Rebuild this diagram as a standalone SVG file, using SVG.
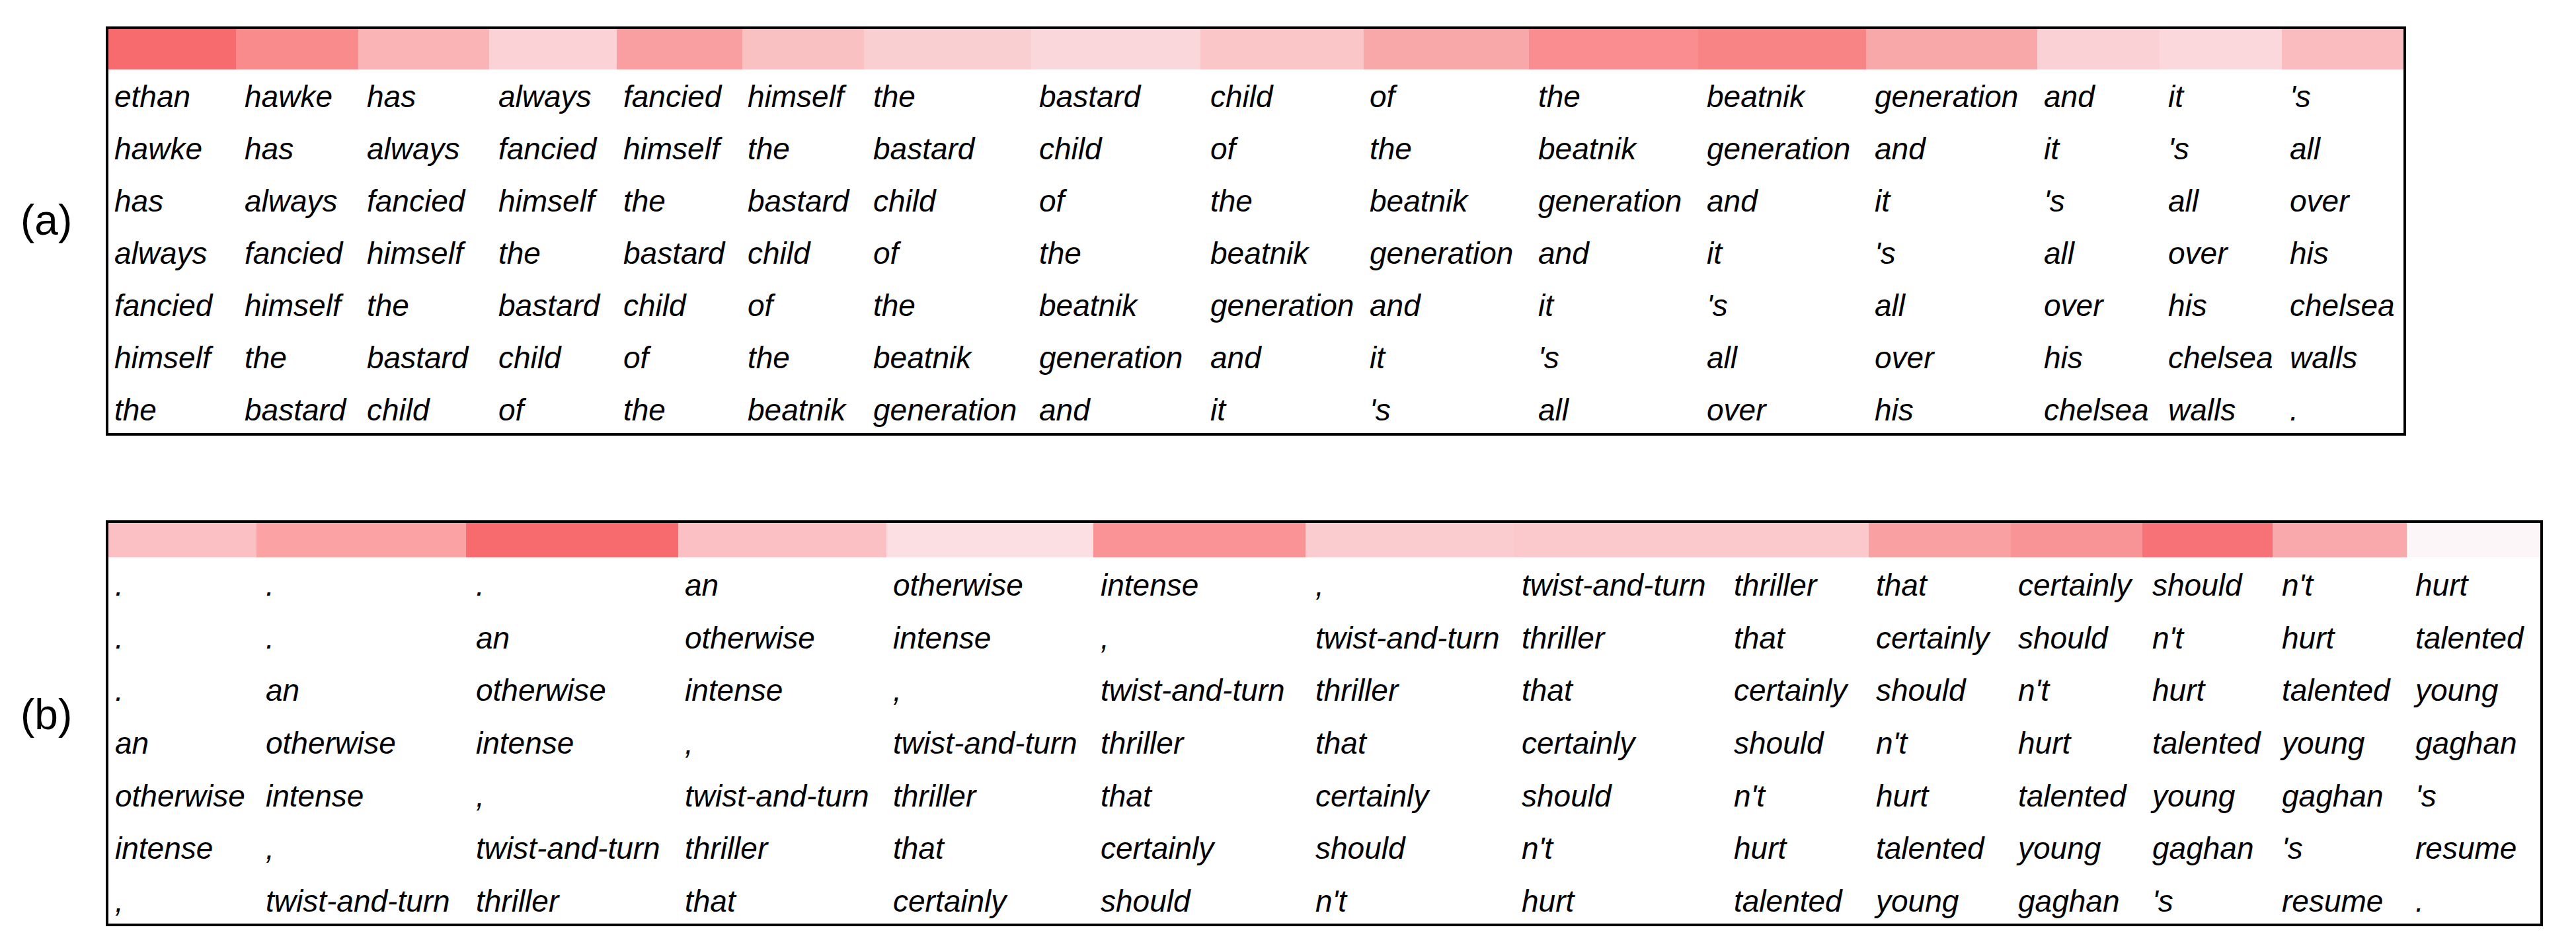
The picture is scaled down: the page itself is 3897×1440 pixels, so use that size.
<svg xmlns="http://www.w3.org/2000/svg" width="3897" height="1440" viewBox="0 0 3897 1440">
<style>
.t{font-family:"Liberation Sans",Arial,sans-serif;font-style:italic;font-size:46px;fill:#000}
.lbl{font-family:"Liberation Sans",Arial,sans-serif;font-size:64px;fill:#000}
.box{fill:none;stroke:#000;stroke-width:4}
</style>
<rect width="3897" height="1440" fill="#fff"/>
<text class="lbl" x="31" y="355">(a)</text>
<text class="lbl" x="31" y="1103">(b)</text>
<g id="panel-a">
<g id="bar-a">
<rect x="164" y="44" width="193" height="61" fill="#F76A6E"/>
<rect x="357" y="44" width="185" height="61" fill="#F98B8D"/>
<rect x="542" y="44" width="198" height="61" fill="#FAB4B6"/>
<rect x="740" y="44" width="193" height="61" fill="#FBD2D5"/>
<rect x="933" y="44" width="190" height="61" fill="#F99FA1"/>
<rect x="1123" y="44" width="184" height="61" fill="#FAC1C3"/>
<rect x="1307" y="44" width="253" height="61" fill="#FACFD2"/>
<rect x="1560" y="44" width="256" height="61" fill="#FAD7DA"/>
<rect x="1816" y="44" width="247" height="61" fill="#FAC6C8"/>
<rect x="2063" y="44" width="250" height="61" fill="#F9A8AA"/>
<rect x="2313" y="44" width="256" height="61" fill="#F98D8F"/>
<rect x="2569" y="44" width="254" height="61" fill="#F88486"/>
<rect x="2823" y="44" width="259" height="61" fill="#F9A8AA"/>
<rect x="3082" y="44" width="185" height="61" fill="#FAD2D5"/>
<rect x="3267" y="44" width="185" height="61" fill="#FAD8DB"/>
<rect x="3452" y="44" width="184" height="61" fill="#FABCBE"/>
</g>
<g id="text-a" class="t">
<text y="162"><tspan x="173">ethan</tspan><tspan x="370">hawke</tspan><tspan x="555">has</tspan><tspan x="754">always</tspan><tspan x="943">fancied</tspan><tspan x="1131">himself</tspan><tspan x="1321">the</tspan><tspan x="1572">bastard</tspan><tspan x="1831">child</tspan><tspan x="2072">of</tspan><tspan x="2327">the</tspan><tspan x="2582">beatnik</tspan><tspan x="2836">generation</tspan><tspan x="3092">and</tspan><tspan x="3280">it</tspan><tspan x="3464">'s</tspan></text>
<text y="241"><tspan x="173">hawke</tspan><tspan x="370">has</tspan><tspan x="555">always</tspan><tspan x="754">fancied</tspan><tspan x="943">himself</tspan><tspan x="1131">the</tspan><tspan x="1321">bastard</tspan><tspan x="1572">child</tspan><tspan x="1831">of</tspan><tspan x="2072">the</tspan><tspan x="2327">beatnik</tspan><tspan x="2582">generation</tspan><tspan x="2836">and</tspan><tspan x="3092">it</tspan><tspan x="3280">'s</tspan><tspan x="3464">all</tspan></text>
<text y="320"><tspan x="173">has</tspan><tspan x="370">always</tspan><tspan x="555">fancied</tspan><tspan x="754">himself</tspan><tspan x="943">the</tspan><tspan x="1131">bastard</tspan><tspan x="1321">child</tspan><tspan x="1572">of</tspan><tspan x="1831">the</tspan><tspan x="2072">beatnik</tspan><tspan x="2327">generation</tspan><tspan x="2582">and</tspan><tspan x="2836">it</tspan><tspan x="3092">'s</tspan><tspan x="3280">all</tspan><tspan x="3464">over</tspan></text>
<text y="399"><tspan x="173">always</tspan><tspan x="370">fancied</tspan><tspan x="555">himself</tspan><tspan x="754">the</tspan><tspan x="943">bastard</tspan><tspan x="1131">child</tspan><tspan x="1321">of</tspan><tspan x="1572">the</tspan><tspan x="1831">beatnik</tspan><tspan x="2072">generation</tspan><tspan x="2327">and</tspan><tspan x="2582">it</tspan><tspan x="2836">'s</tspan><tspan x="3092">all</tspan><tspan x="3280">over</tspan><tspan x="3464">his</tspan></text>
<text y="478"><tspan x="173">fancied</tspan><tspan x="370">himself</tspan><tspan x="555">the</tspan><tspan x="754">bastard</tspan><tspan x="943">child</tspan><tspan x="1131">of</tspan><tspan x="1321">the</tspan><tspan x="1572">beatnik</tspan><tspan x="1831">generation</tspan><tspan x="2072">and</tspan><tspan x="2327">it</tspan><tspan x="2582">'s</tspan><tspan x="2836">all</tspan><tspan x="3092">over</tspan><tspan x="3280">his</tspan><tspan x="3464">chelsea</tspan></text>
<text y="557"><tspan x="173">himself</tspan><tspan x="370">the</tspan><tspan x="555">bastard</tspan><tspan x="754">child</tspan><tspan x="943">of</tspan><tspan x="1131">the</tspan><tspan x="1321">beatnik</tspan><tspan x="1572">generation</tspan><tspan x="1831">and</tspan><tspan x="2072">it</tspan><tspan x="2327">'s</tspan><tspan x="2582">all</tspan><tspan x="2836">over</tspan><tspan x="3092">his</tspan><tspan x="3280">chelsea</tspan><tspan x="3464">walls</tspan></text>
<text y="636"><tspan x="173">the</tspan><tspan x="370">bastard</tspan><tspan x="555">child</tspan><tspan x="754">of</tspan><tspan x="943">the</tspan><tspan x="1131">beatnik</tspan><tspan x="1321">generation</tspan><tspan x="1572">and</tspan><tspan x="1831">it</tspan><tspan x="2072">'s</tspan><tspan x="2327">all</tspan><tspan x="2582">over</tspan><tspan x="2836">his</tspan><tspan x="3092">chelsea</tspan><tspan x="3280">walls</tspan><tspan x="3464">.</tspan></text>
</g>
<rect class="box" x="162" y="42" width="3476" height="615"/>
</g>
<g id="panel-b">
<g id="bar-b">
<rect x="164" y="791" width="224" height="52" fill="#FBC0C3"/>
<rect x="388" y="791" width="317" height="52" fill="#FAA2A4"/>
<rect x="705" y="791" width="321" height="52" fill="#F76B6E"/>
<rect x="1026" y="791" width="315" height="52" fill="#FBC0C3"/>
<rect x="1341" y="791" width="313" height="52" fill="#FCDFE2"/>
<rect x="1654" y="791" width="321" height="52" fill="#F99395"/>
<rect x="1975" y="791" width="316" height="52" fill="#FBCCCF"/>
<rect x="2291" y="791" width="321" height="52" fill="#FBC9CC"/>
<rect x="2612" y="791" width="215" height="52" fill="#FBC9CC"/>
<rect x="2827" y="791" width="215" height="52" fill="#F9A0A2"/>
<rect x="3042" y="791" width="199" height="52" fill="#F99496"/>
<rect x="3241" y="791" width="197" height="52" fill="#F77276"/>
<rect x="3438" y="791" width="203" height="52" fill="#F9A9AB"/>
<rect x="3641" y="791" width="202" height="52" fill="#FCF6F9"/>
</g>
<g id="text-b" class="t">
<text y="901"><tspan x="174">.</tspan><tspan x="402">.</tspan><tspan x="720">.</tspan><tspan x="1036">an</tspan><tspan x="1351">otherwise</tspan><tspan x="1665">intense</tspan><tspan x="1990">,</tspan><tspan x="2302">twist-and-turn</tspan><tspan x="2623">thriller</tspan><tspan x="2838">that</tspan><tspan x="3053">certainly</tspan><tspan x="3256">should</tspan><tspan x="3452">n't</tspan><tspan x="3654">hurt</tspan></text>
<text y="981"><tspan x="174">.</tspan><tspan x="402">.</tspan><tspan x="720">an</tspan><tspan x="1036">otherwise</tspan><tspan x="1351">intense</tspan><tspan x="1665">,</tspan><tspan x="1990">twist-and-turn</tspan><tspan x="2302">thriller</tspan><tspan x="2623">that</tspan><tspan x="2838">certainly</tspan><tspan x="3053">should</tspan><tspan x="3256">n't</tspan><tspan x="3452">hurt</tspan><tspan x="3654">talented</tspan></text>
<text y="1060"><tspan x="174">.</tspan><tspan x="402">an</tspan><tspan x="720">otherwise</tspan><tspan x="1036">intense</tspan><tspan x="1351">,</tspan><tspan x="1665">twist-and-turn</tspan><tspan x="1990">thriller</tspan><tspan x="2302">that</tspan><tspan x="2623">certainly</tspan><tspan x="2838">should</tspan><tspan x="3053">n't</tspan><tspan x="3256">hurt</tspan><tspan x="3452">talented</tspan><tspan x="3654">young</tspan></text>
<text y="1140"><tspan x="174">an</tspan><tspan x="402">otherwise</tspan><tspan x="720">intense</tspan><tspan x="1036">,</tspan><tspan x="1351">twist-and-turn</tspan><tspan x="1665">thriller</tspan><tspan x="1990">that</tspan><tspan x="2302">certainly</tspan><tspan x="2623">should</tspan><tspan x="2838">n't</tspan><tspan x="3053">hurt</tspan><tspan x="3256">talented</tspan><tspan x="3452">young</tspan><tspan x="3654">gaghan</tspan></text>
<text y="1220"><tspan x="174">otherwise</tspan><tspan x="402">intense</tspan><tspan x="720">,</tspan><tspan x="1036">twist-and-turn</tspan><tspan x="1351">thriller</tspan><tspan x="1665">that</tspan><tspan x="1990">certainly</tspan><tspan x="2302">should</tspan><tspan x="2623">n't</tspan><tspan x="2838">hurt</tspan><tspan x="3053">talented</tspan><tspan x="3256">young</tspan><tspan x="3452">gaghan</tspan><tspan x="3654">'s</tspan></text>
<text y="1299"><tspan x="174">intense</tspan><tspan x="402">,</tspan><tspan x="720">twist-and-turn</tspan><tspan x="1036">thriller</tspan><tspan x="1351">that</tspan><tspan x="1665">certainly</tspan><tspan x="1990">should</tspan><tspan x="2302">n't</tspan><tspan x="2623">hurt</tspan><tspan x="2838">talented</tspan><tspan x="3053">young</tspan><tspan x="3256">gaghan</tspan><tspan x="3452">'s</tspan><tspan x="3654">resume</tspan></text>
<text y="1379"><tspan x="174">,</tspan><tspan x="402">twist-and-turn</tspan><tspan x="720">thriller</tspan><tspan x="1036">that</tspan><tspan x="1351">certainly</tspan><tspan x="1665">should</tspan><tspan x="1990">n't</tspan><tspan x="2302">hurt</tspan><tspan x="2623">talented</tspan><tspan x="2838">young</tspan><tspan x="3053">gaghan</tspan><tspan x="3256">'s</tspan><tspan x="3452">resume</tspan><tspan x="3654">.</tspan></text>
</g>
<rect class="box" x="162" y="789" width="3683" height="610"/>
</g>
</svg>
